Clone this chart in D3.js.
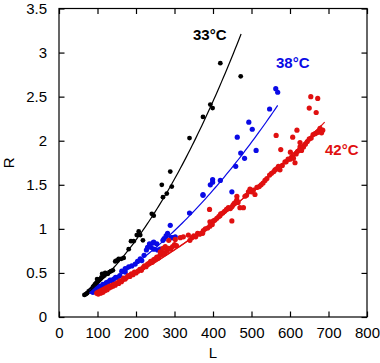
<!DOCTYPE html>
<html><head><meta charset="utf-8">
<script src="https://cdn.jsdelivr.net/npm/d3@7"></script>
<style>html,body{margin:0;padding:0;background:#fff;}svg{display:block;font-family:"Liberation Sans",Arial,sans-serif;}</style>
</head><body><svg id="c" width="380" height="363"></svg>
<script>
// ---- data ----
const xTicks = [0,100,200,300,400,500,600,700,800];
const yTicks = [0,0.5,1,1.5,2,2.5,3,3.5];
const yTickLabels = ["0","0.5","1","1.5","2","2.5","3","3.5"];
const seriesNames = ["33°C","38°C","42°C"];
const pts33 = [[66,0.25],[70,0.26],[73,0.27],[77,0.29],[80,0.30],[83,0.31],[86,0.32],[88,0.34],[90,0.35],[93,0.37],[96,0.38],[98,0.39],[99,0.43],[101,0.41],[104,0.42],[107,0.43],[110,0.45],[112,0.49],[114,0.46],[118,0.47],[120,0.50],[123,0.49],[127,0.49],[131,0.51],[135,0.52],[140,0.53],[146,0.63],[149,0.64],[152,0.64],[155,0.66],[162,0.66],[168,0.67],[181,0.77],[187,0.86],[194,0.86],[202,0.93],[207,0.97],[211,0.93],[218,0.87],[241,1.17],[246,1.15],[267,1.50],[270,1.36],[280,1.40],[289,1.65],[293,1.48],[339,2.03],[374,2.27],[393,2.41],[399,2.37],[419,2.88],[472,2.73]];
const pts38 = [[85,0.29],[88,0.28],[92,0.31],[95,0.30],[98,0.33],[102,0.32],[105,0.35],[110,0.34],[114,0.37],[118,0.36],[123,0.39],[128,0.40],[133,0.42],[138,0.41],[142,0.43],[147,0.45],[152,0.45],[158,0.47],[163,0.52],[172,0.51],[172,0.55],[181,0.57],[189,0.58],[198,0.60],[204,0.63],[211,0.66],[215,0.64],[221,0.70],[227,0.76],[230,0.79],[235,0.83],[239,0.79],[244,0.84],[246,0.77],[246,0.85],[254,0.83],[256,0.76],[263,0.77],[270,0.87],[273,0.89],[278,0.92],[282,0.95],[289,1.04],[291,0.90],[296,0.90],[302,0.91],[339,1.18],[374,1.39],[374,1.38],[393,1.50],[399,1.53],[399,1.56],[419,1.55],[449,1.42],[459,1.71],[463,2.04],[472,1.86],[482,1.80],[493,2.21],[502,2.13],[512,1.89],[547,2.36],[563,2.59],[568,2.55]];
const pts42 = [[98,0.27],[100,0.29],[102,0.26],[104,0.28],[106,0.30],[108,0.27],[110,0.29],[112,0.31],[114,0.28],[116,0.30],[118,0.32],[120,0.30],[122,0.33],[125,0.31],[127,0.34],[130,0.33],[132,0.35],[135,0.34],[138,0.36],[140,0.35],[143,0.37],[146,0.36],[149,0.38],[152,0.39],[155,0.38],[158,0.41],[162,0.40],[165,0.42],[168,0.44],[172,0.43],[176,0.45],[180,0.47],[184,0.46],[188,0.49],[192,0.48],[196,0.51],[200,0.50],[205,0.52],[210,0.54],[214,0.53],[218,0.56],[222,0.58],[226,0.57],[230,0.60],[234,0.61],[238,0.63],[242,0.62],[246,0.65],[250,0.66],[254,0.68],[258,0.67],[262,0.70],[266,0.71],[270,0.73],[275,0.72],[280,0.75],[285,0.78],[290,0.77],[295,0.80],[300,0.82],[305,0.81],
[263,0.74],[270,0.78],[276,0.80],[285,0.87],[302,0.88],[315,0.90],[323,0.91],[336,0.93],
[340,0.87],[345,0.90],[350,0.92],[355,0.91],[360,0.95],[365,0.94],[371,0.95],[375,0.98],[380,1.00],[386,1.01],[392,1.03],[392,1.08],[398,1.05],[401,1.09],[405,1.10],[410,1.12],[415,1.14],[418,1.15],[420,1.17],[425,1.18],[430,1.20],[435,1.22],[440,1.24],[445,1.23],[449,1.25],[452,1.27],[455,1.29],[457,1.29],[460,1.31],[462,1.33],[462,1.37],[465,1.30],[470,1.24],[479,1.24],[483,1.37],[487,1.38],[492,1.42],[496,1.45],[500,1.42],[505,1.44],[509,1.39],[514,1.47],[520,1.48],
[391,1.22],[449,1.09],[373,0.95],
[525,1.50],[530,1.52],[535,1.55],[540,1.57],[547,1.61],[552,1.63],[558,1.65],[561,1.67],[565,1.68],[570,1.71],[574,1.67],[580,1.72],[587,1.76],[590,1.76],[595,1.79],[600,1.79],[605,1.82],[607,1.82],[609,1.80],[613,1.75],[616,1.85],[620,1.88],[626,1.93],[630,1.89],[635,1.93],[640,1.96],[645,1.99],[650,2.02],[655,2.03],[660,2.07],[665,2.08],[669,2.09],[672,2.10],[676,2.10],[678,2.14],[682,2.09],[685,2.12],
[654,2.50],[672,2.48],[650,2.37],[668,2.32],[564,2.06],[576,1.90],[607,2.04],[618,2.12],[626,1.98],[601,1.87]];
// quadratic fit coefficients [a,b,c] (R = a + b L + c L^2) and L range
const fit33 = [0.063, 0.002147, 9.53e-6], range33 = [66, 473];
const fit38 = [0.1155, 0.001604, 4.258e-6], range38 = [85, 568];
const fit42a = [0.0915, 0.001599, 2.137e-6], range42a = [98, 682];
const fit42b = [0.075, 0.001660, 2.080e-6], range42b = [100, 690];

// ---- chart ----
const svg = d3.select("#c");
const x = d3.scaleLinear().domain([0,800]).range([59,367]);
const y = d3.scaleLinear().domain([0,3.5]).range([317,8.5]);
const colors = ["#000000","#0a0ae6","#e01010"];
const fs = 15;

// frame
svg.append("rect").attr("x",x(0)).attr("y",y(3.5)).attr("width",x(800)-x(0)).attr("height",y(0)-y(3.5))
  .attr("fill","none").attr("stroke","#000").attr("stroke-width",1.2);

const tl = 5.5;
const ax = (g)=>{g.select(".domain").remove(); g.selectAll("line").attr("stroke","#000").attr("stroke-width",1.2);};
svg.append("g").attr("transform",`translate(0,${y(0)})`)
  .call(d3.axisBottom(x).tickValues(xTicks).tickSizeInner(-tl).tickSizeOuter(0).tickPadding(10).tickFormat(d3.format("d")))
  .call(ax).selectAll("text").attr("font-size",fs).attr("fill","#000").attr("font-family","Liberation Sans, Arial, sans-serif");
svg.append("g").attr("transform",`translate(0,${y(3.5)})`)
  .call(d3.axisTop(x).tickValues(xTicks).tickSizeInner(-tl).tickSizeOuter(0).tickFormat(""))
  .call(ax);
svg.append("g").attr("transform",`translate(${x(0)},0)`)
  .call(d3.axisLeft(y).tickValues(yTicks).tickSizeInner(-tl).tickSizeOuter(0).tickPadding(12).tickFormat((d,i)=>yTickLabels[i]))
  .call(ax).selectAll("text").attr("font-size",fs).attr("fill","#000").attr("font-family","Liberation Sans, Arial, sans-serif");
svg.append("g").attr("transform",`translate(${x(800)},0)`)
  .call(d3.axisRight(y).tickValues(yTicks).tickSizeInner(-tl).tickSizeOuter(0).tickFormat(""))
  .call(ax);

// axis titles
svg.append("text").attr("x",(x(0)+x(800))/2).attr("y",358).attr("text-anchor","middle").attr("font-size",fs).text("L");
svg.append("text").attr("transform",`translate(14,${(y(0)+y(3.5))/2}) rotate(-90)`).attr("text-anchor","middle").attr("font-size",fs).text("R");

// points
const allPts = [pts33, pts38, pts42];
allPts.forEach((pts,i)=>{
  svg.append("g").selectAll("circle").data(pts).join("circle")
    .attr("cx",d=>x(d[0])).attr("cy",d=>y(d[1])).attr("r",i===0?2.4:2.6).attr("fill",colors[i]);
});

// fit curves
const curve = (coef, rng)=>{
  const n = 80, out=[];
  for(let k=0;k<=n;k++){const L=rng[0]+(rng[1]-rng[0])*k/n; out.push([L, coef[0]+coef[1]*L+coef[2]*L*L]);}
  return out;
};
const line = d3.line().x(d=>x(d[0])).y(d=>y(d[1]));
[[fit33,range33,0],[fit38,range38,1],[fit42a,range42a,2],[fit42b,range42b,2]].forEach(([c,r,i])=>{
  svg.append("path").attr("d",line(curve(c,r))).attr("fill","none").attr("stroke",colors[i]).attr("stroke-width",1.2);
});

// series labels
const lab = [[193,40],[276,68],[325,155]];
seriesNames.forEach((s,i)=>{
  svg.append("text").attr("x",lab[i][0]).attr("y",lab[i][1]).attr("font-size",fs).attr("font-weight","bold")
    .attr("fill",colors[i]).text(s);
});
</script></body></html>
